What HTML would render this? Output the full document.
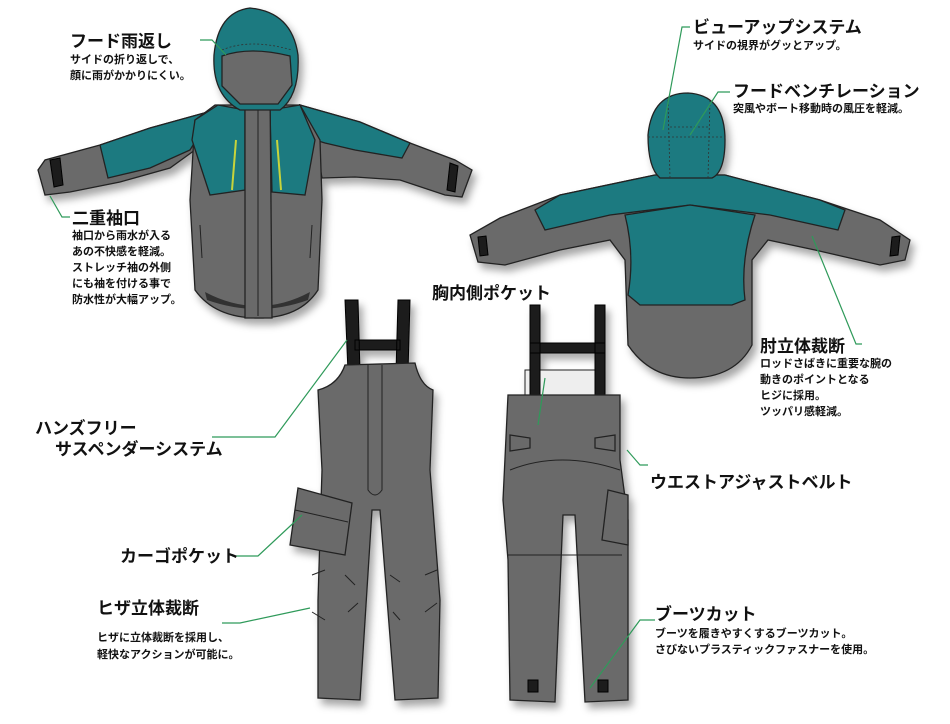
<!DOCTYPE html>
<html><head><meta charset="utf-8"><style>
html,body{margin:0;padding:0;background:#fff;}
svg{display:block}
text{font-family:"Liberation Sans","Noto Sans CJK JP",sans-serif;font-weight:bold;fill:#111}
.h{font-size:17px}
.s{font-size:11px}
.g{fill:#6b6b6b;stroke:#222;stroke-width:1.3}
.t{fill:#1b7a80;stroke:#222;stroke-width:1.3}
.d{fill:none;stroke:#333;stroke-width:0.8;stroke-dasharray:2 2}
.ln{fill:none;stroke:#222;stroke-width:1}
.gl{fill:none;stroke:#2f9a5a;stroke-width:1.2}
.k{fill:#1a1a1a;stroke:#000;stroke-width:1}
</style></head><body>
<svg width="950" height="724" viewBox="0 0 950 724" xmlns="http://www.w3.org/2000/svg">
<defs><filter id="sh" x="-10%" y="-10%" width="120%" height="130%"><feDropShadow dx="4" dy="6" stdDeviation="4" flood-color="#000" flood-opacity="0.35"/></filter></defs>

<!-- FRONT JACKET -->
<g filter="url(#sh)">
<!-- right sleeve -->
<path class="g" d="M300 105 L360 122 L410 143 L455 160 L472 170 L462 197 L445 195 L400 180 L355 177 L322 178 L315 140 Z"/>
<path class="t" d="M300 105 L360 122 L410 143 L402 158 L355 150 L325 143 L315 140 Z"/>
<path class="k" d="M450 163 L458 166 L455 192 L447 190 Z"/>
<!-- left sleeve -->
<path class="g" d="M215 110 L150 128 L100 145 L45 160 L38 170 L45 195 L70 192 L120 182 L170 168 L195 150 Z"/>
<path class="t" d="M215 110 L150 128 L100 145 L108 178 L150 168 L190 150 Z"/>
<path class="k" d="M50 160 L60 158 L63 185 L54 187 Z"/>
<!-- body -->
<path class="g" d="M195 120 L215 105 L300 105 L320 140 L322 200 L318 290 Q300 318 258 318 Q215 318 195 290 L190 200 Z"/>
<path class="t" d="M218 105 L245 110 L245 190 L210 195 L192 140 L195 120 Z"/>
<path class="t" d="M270 110 L300 105 L315 140 L305 195 L272 192 Z"/>
<path d="M205 292 Q258 320 310 292 L308 300 Q258 318 207 300 Z" fill="#333"/>
<path class="g" d="M245 90 L270 90 L272 318 L245 318 Z"/>
<path class="ln" d="M258 92 L258 316"/>
<path fill="none" stroke="#c8d43a" stroke-width="2" d="M236 140 L232 190 M277 140 L281 190"/>
<path class="ln" d="M200 225 L202 258 M312 225 L310 258"/>
<!-- hood -->
<path class="t" d="M250 8 Q292 12 298 55 Q300 95 280 110 L240 110 Q212 95 214 55 Q218 12 250 8 Z"/>
<path class="g" d="M222 56 Q250 46 290 56 L292 85 L278 104 L240 104 L222 86 Z"/>
<path class="d" d="M222 50 Q250 38 292 50"/>
</g>

<!-- BACK JACKET -->
<g filter="url(#sh)">
<path class="g" d="M655 175 L560 195 L500 218 L470 235 L478 262 L505 265 L560 250 L610 240 L625 260 L628 345 Q650 378 690 378 Q735 378 752 345 L752 260 L768 240 L815 250 L880 265 L905 260 L910 240 L880 220 L820 200 L725 175 Z"/>
<path class="t" d="M655 175 L560 195 L535 210 L545 230 L610 215 L690 205 L770 215 L838 230 L845 210 L820 200 L725 175 Z"/>
<path class="t" d="M625 215 L690 205 L755 215 Q740 260 745 300 L732 305 L640 305 L628 295 Q635 255 625 215 Z"/>
<path class="k" d="M478 237 L486 236 L488 255 L480 256 Z"/>
<path class="k" d="M892 237 L900 236 L898 255 L890 256 Z"/>
<path class="t" d="M688 93 Q725 95 725 140 Q725 172 712 178 L660 178 Q648 168 648 135 Q652 93 688 93 Z"/>
<path class="d" d="M668 100 L670 178 M710 100 L708 178 M648 137 L725 137 M670 127 L708 127"/>
</g>

<!-- FRONT BIB -->
<g filter="url(#sh)">
<path class="k" d="M345 300 L358 300 L360 372 L348 372 Z M398 300 L410 300 L408 372 L396 372 Z M355 340 L400 340 L400 350 L355 350 Z"/>
<path class="g" d="M345 365 L415 363 Q420 385 433 390 L430 470 L440 600 L438 698 L395 700 L380 510 L372 510 L360 700 L318 698 L318 600 L322 470 L318 390 Q338 385 345 365 Z"/>
<path class="ln" d="M368 365 L368 490 Q375 500 382 490 L382 365"/>
<path class="g" d="M298 488 L352 503 L345 555 L290 545 Z"/>
<path class="ln" d="M295 510 L348 522"/>
<path class="ln" d="M312 575 L325 570 M345 575 L355 585 M390 575 L400 582 M425 575 L437 570 M312 612 L325 620 M348 612 L358 603 M393 612 L400 620 M425 612 L437 603"/>
</g>

<!-- BACK BIB -->
<g filter="url(#sh)">
<path d="M525 370 L600 370 L600 395 L525 395 Z" fill="#eee" stroke="#222"/>
<path class="k" d="M530 305 L540 305 L540 395 L530 395 Z M595 305 L605 305 L605 395 L595 395 Z M530 343 L605 343 L605 353 L530 353 Z"/>
<path class="g" d="M508 395 L620 395 L620 460 L628 520 L628 700 L585 702 L575 515 L563 515 L555 702 L510 700 L508 560 L503 500 Z"/>
<path class="ln" d="M510 470 Q560 450 620 470"/>
<path class="ln" d="M508 555 L622 555"/>
<path class="g" d="M510 435 L530 438 L530 448 L510 451 Z M615 435 L595 438 L595 448 L615 451 Z"/>
<path class="g" d="M608 490 L628 495 L628 545 L602 540 Z"/>
<path class="k" d="M528 680 L538 680 L538 692 L528 692 Z M598 680 L608 680 L608 692 L598 692 Z"/>
</g>

<!-- LEADER LINES -->
<path class="gl" d="M200 40 L212 40 L226 55"/>
<path class="gl" d="M70 217 L62 217 L50 196"/>
<path class="gl" d="M690 27 L682 27 L663 130"/>
<path class="gl" d="M730 92 L718 92 L690 135"/>
<path class="gl" d="M862 344 L856 344 L812 236"/>
<path class="gl" d="M212 437 L275 437 L347 340"/>
<path class="gl" d="M232 556 L258 556 L302 515"/>
<path class="gl" d="M222 623 L240 623 L310 608"/>
<path class="gl" d="M648 465 L640 465 L627 450"/>
<path class="gl" d="M545 378 L538 425"/>
<path class="gl" d="M655 620 L640 620 L590 688"/>

<!-- TEXT -->
<text class="h" x="70" y="47">フード雨返し</text>
<text class="s" x="70" y="63">サイドの折り返しで、</text>
<text class="s" x="70" y="79">顔に雨がかかりにくい。</text>

<text class="h" x="72" y="224">二重袖口</text>
<text class="s" x="72" y="239">袖口から雨水が入る</text>
<text class="s" x="72" y="255">あの不快感を軽減。</text>
<text class="s" x="72" y="271">ストレッチ袖の外側</text>
<text class="s" x="72" y="287">にも袖を付ける事で</text>
<text class="s" x="72" y="303">防水性が大幅アップ。</text>

<text class="h" x="693" y="33">ビューアップシステム</text>
<text class="s" x="693" y="49">サイドの視界がグッとアップ。</text>

<text class="h" x="733" y="97">フードベンチレーション</text>
<text class="s" x="733" y="112">突風やボート移動時の風圧を軽減。</text>

<text class="h" x="432" y="299">胸内側ポケット</text>

<text class="h" x="760" y="352">肘立体裁断</text>
<text class="s" x="760" y="367">ロッドさばきに重要な腕の</text>
<text class="s" x="760" y="383">動きのポイントとなる</text>
<text class="s" x="760" y="399">ヒジに採用。</text>
<text class="s" x="760" y="415">ツッパリ感軽減。</text>

<text class="h" x="35" y="434">ハンズフリー</text>
<text class="h" x="55" y="455">サスペンダーシステム</text>

<text class="h" x="650" y="488">ウエストアジャストベルト</text>

<text class="h" x="120" y="562">カーゴポケット</text>

<text class="h" x="97" y="614">ヒザ立体裁断</text>
<text class="s" x="97" y="641">ヒザに立体裁断を採用し、</text>
<text class="s" x="97" y="658">軽快なアクションが可能に。</text>

<text class="h" x="655" y="620">ブーツカット</text>
<text class="s" x="655" y="637">ブーツを履きやすくするブーツカット。</text>
<text class="s" x="655" y="653">さびないプラスティックファスナーを使用。</text>
</svg>
</body></html>
